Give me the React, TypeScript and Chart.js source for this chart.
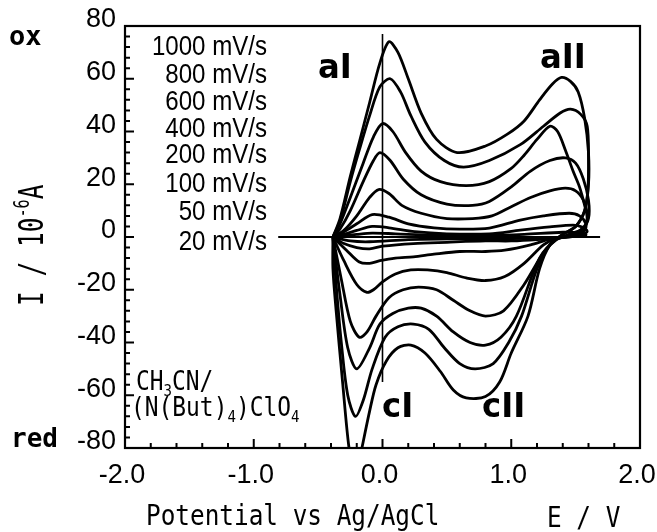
import React, { useEffect, useRef } from "react";
import { Chart, registerables } from "chart.js";

Chart.register(...registerables);

type P = [number, number];

// Scan rates (legend labels, top to bottom)
const scanRates: string[] = ["1000", "800", "600", "400", "200", "100", "50", "20"];

// Cyclic voltammograms: E (V vs Ag/AgCl), I (10^-6 A); anodic sweep then cathodic sweep
const cv1000: P[] = [
  [-0.385, 0], [-0.33, 7], [-0.25, 23], [-0.18, 36], [-0.1, 51], [-0.02, 66], [0.05, 74], [0.12, 70], [0.2, 60],
  [0.3, 47], [0.42, 37], [0.58, 32], [0.8, 34.5], [0.97, 39], [1.1, 44], [1.22, 52], [1.32, 58], [1.39, 60.5],
  [1.46, 59], [1.52, 55], [1.57, 45], [1.6, 32], [1.6, 20], [1.57, 10], [1.5, 4], [1.4, 1],
  [1.3, -3], [1.22, -12], [1.13, -30], [1.0, -44], [0.91, -55], [0.8, -60.5], [0.65, -61], [0.55, -58],
  [0.45, -51], [0.33, -44], [0.22, -41], [0.12, -42], [0.03, -47], [-0.05, -56], [-0.1, -66], [-0.16, -80],
  [-0.21, -92], [-0.26, -80], [-0.31, -55], [-0.36, -28], [-0.385, -12], [-0.385, 0],
];
const cv800: P[] = [
  [-0.385, 0], [-0.33, 6], [-0.25, 21], [-0.18, 33], [-0.1, 46], [-0.02, 57], [0.06, 60], [0.14, 55], [0.22, 46],
  [0.33, 36], [0.48, 29], [0.63, 26.5], [0.83, 29], [1.07, 35], [1.25, 42], [1.38, 47], [1.46, 48.5], [1.54, 46.5],
  [1.59, 42], [1.6, 30], [1.595, 18], [1.57, 10], [1.5, 4], [1.4, 1],
  [1.3, -3], [1.2, -12], [1.08, -30], [0.98, -40], [0.86, -48], [0.72, -50], [0.6, -48], [0.48, -42], [0.36, -35],
  [0.24, -33], [0.12, -34], [0.02, -38], [-0.08, -50], [-0.15, -62], [-0.21, -68], [-0.27, -60], [-0.32, -40],
  [-0.36, -18], [-0.385, 0],
];
const cv600: P[] = [
  [-0.385, 0], [-0.33, 5], [-0.25, 15], [-0.15, 28], [-0.07, 38], [0.0, 43], [0.08, 40], [0.18, 32], [0.3, 25],
  [0.45, 21], [0.65, 19.5], [0.83, 21], [1.0, 26], [1.1, 31], [1.2, 37], [1.3, 42], [1.36, 40], [1.42, 33],
  [1.48, 25], [1.53, 19], [1.57, 12], [1.59, 7], [1.56, 3], [1.48, 1],
  [1.35, -1], [1.22, -8], [1.04, -30], [0.92, -38], [0.8, -41], [0.68, -40], [0.55, -36], [0.42, -30], [0.3, -27],
  [0.2, -27], [0.08, -29], [-0.02, -33], [-0.1, -42], [-0.2, -50], [-0.27, -42], [-0.33, -22], [-0.385, 0],
];
const cv400: P[] = [
  [-0.385, 0], [-0.33, 3], [-0.25, 10], [-0.15, 21], [-0.07, 29], [-0.02, 32], [0.06, 29], [0.16, 22], [0.3, 16],
  [0.5, 12.5], [0.7, 12], [0.83, 13.5], [1.0, 19], [1.15, 25], [1.3, 29], [1.42, 30], [1.5, 28], [1.56, 22],
  [1.6, 14], [1.6, 7], [1.55, 3], [1.45, 1],
  [1.35, -1], [1.25, -6], [1.1, -18], [0.94, -28], [0.8, -30], [0.68, -28], [0.55, -24], [0.42, -20], [0.28, -19],
  [0.16, -20], [0.05, -23], [-0.05, -30], [-0.12, -36], [-0.18, -38], [-0.25, -32], [-0.32, -16], [-0.385, 0],
];
const cv200: P[] = [
  [-0.385, 0], [-0.3, 2.5], [-0.2, 8], [-0.1, 15], [-0.03, 18], [0.05, 16.5], [0.15, 12], [0.3, 9], [0.5, 7],
  [0.7, 7], [0.85, 8], [1.0, 11.5], [1.15, 15], [1.3, 17.5], [1.42, 18.5], [1.5, 17.5], [1.56, 14], [1.59, 9],
  [1.58, 5], [1.52, 2], [1.45, 0.5],
  [1.35, -0.5], [1.25, -3], [1.1, -10], [0.95, -15], [0.8, -16.5], [0.65, -15.5], [0.5, -13.5], [0.35, -12.5],
  [0.22, -12.5], [0.1, -14], [0.0, -17], [-0.07, -20], [-0.12, -21], [-0.2, -18], [-0.3, -9], [-0.385, 0],
];
const cv100: P[] = [
  [-0.385, 0], [-0.3, 2], [-0.2, 5], [-0.08, 8.5], [0.05, 7.5], [0.2, 5], [0.4, 3.5], [0.6, 3], [0.83, 3.4],
  [1.07, 6.4], [1.25, 8], [1.45, 9], [1.53, 8], [1.58, 5], [1.57, 2.5], [1.5, 1], [1.42, 0],
  [1.3, -0.8], [1.15, -3], [0.95, -5], [0.8, -5.5], [0.6, -5.5], [0.4, -6.5], [0.24, -7.5], [0.1, -8],
  [-0.02, -9], [-0.1, -10], [-0.18, -9.5], [-0.28, -5], [-0.385, 0],
];
const cv50: P[] = [
  [-0.385, 0], [-0.3, 1], [-0.2, 2.5], [-0.08, 4], [0.05, 3.5], [0.25, 2], [0.5, 1.2], [0.83, 1.2], [1.07, 2.6],
  [1.3, 3.8], [1.48, 4.5], [1.55, 3.8], [1.59, 2.2], [1.55, 1], [1.45, 0],
  [1.35, -0.3], [1.2, -1], [1.0, -1.5], [0.8, -1.5], [0.5, -2], [0.24, -2.5], [0.0, -3.5], [-0.1, -4.5],
  [-0.2, -4], [-0.3, -2.5], [-0.385, 0],
];
const cv20: P[] = [
  [-0.385, 0], [-0.2, 1], [-0.08, 1.5], [0.1, 1.2], [0.4, 0.7], [0.8, 0.6], [1.1, 1], [1.4, 1.8], [1.55, 1.5],
  [1.58, 0.8], [1.5, 0.3], [1.4, 0],
  [1.3, -0.3], [1.0, -0.6], [0.6, -0.7], [0.2, -1], [-0.1, -1.8], [-0.25, -1.5], [-0.385, 0],
];

// Reference lines
const zeroLine: P[] = [[-0.81, 0], [1.69, 0]];
const zeroPotentialLine: P[] = [[0, 77], [0, -55]];

// Axes
const xTickValues: number[] = [-2, -1, 0, 1, 2];
const yTickValues: number[] = [-80, -60, -40, -20, 0, 20, 40, 60, 80];

const curves: P[][] = [cv1000, cv800, cv600, cv400, cv200, cv100, cv50, cv20];

const MONO = "'DejaVu Sans Mono', 'Liberation Mono', monospace";
const SANS = "'Liberation Sans', Arial, sans-serif";
const BOLD = "'DejaVu Sans', sans-serif";

type Run = { t: string; sub?: boolean; sup?: boolean };

function drawRuns(
  ctx: CanvasRenderingContext2D,
  runs: Run[],
  x: number,
  y: number,
  family: string,
  size: number,
  sx: number,
  weight = "normal",
  align: "left" | "right" = "left"
) {
  ctx.save();
  ctx.translate(x, y);
  ctx.scale(sx, 1);
  ctx.textBaseline = "alphabetic";
  ctx.textAlign = "left";
  ctx.fillStyle = "#000";
  let total = 0;
  const parts = runs.map((r) => {
    const s = r.sub || r.sup ? Math.round(size * 0.62) : size;
    ctx.font = `${weight} ${s}px ${family}`;
    const w = ctx.measureText(r.t).width;
    total += w;
    return { r, s, w };
  });
  let cx = align === "right" ? -total : 0;
  for (const p of parts) {
    ctx.font = `${weight} ${p.s}px ${family}`;
    const dy = p.r.sub ? size * 0.22 : p.r.sup ? -size * 0.42 : 0;
    ctx.fillText(p.r.t, cx, dy);
    cx += p.w;
  }
  ctx.restore();
}

const decor = {
  id: "decor",
  afterDraw(chart: any) {
    const { ctx, chartArea: a } = chart;
    const xs = chart.scales.x;
    const ys = chart.scales.y;
    ctx.save();
    ctx.strokeStyle = "#000";
    ctx.lineWidth = 2.2;
    ctx.strokeRect(a.left, a.top, a.right - a.left, a.bottom - a.top);
    ctx.lineWidth = 2;
    ctx.beginPath();
    for (let i = -10; i <= 10; i++) {
      const px = xs.getPixelForValue(i * 0.2);
      const len = i % 5 === 0 ? 9 : 5;
      ctx.moveTo(px, a.bottom);
      ctx.lineTo(px, a.bottom - len);
    }
    for (let i = -20; i <= 20; i++) {
      const py = ys.getPixelForValue(i * 4);
      const len = i % 5 === 0 ? 9 : 5;
      ctx.moveTo(a.left, py);
      ctx.lineTo(a.left + len, py);
    }
    ctx.stroke();

    // ox / red
    drawRuns(ctx, [{ t: "ox" }], 9, 45, MONO, 27, 1, "bold");
    drawRuns(ctx, [{ t: "red" }], 11, 447, MONO, 26, 1, "bold");

    // scan-rate labels
    const baselines = [55, 83, 110, 137, 163, 192, 220, 250];
    scanRates.forEach((r, i) => {
      drawRuns(ctx, [{ t: `${r} mV/s` }], 267, baselines[i], SANS, 28, 0.86, "normal", "right");
    });

    // peak labels
    drawRuns(ctx, [{ t: "aI" }], 318, 78, BOLD, 34, 0.95, "bold");
    drawRuns(ctx, [{ t: "aII" }], 540, 68, BOLD, 34, 0.95, "bold");
    drawRuns(ctx, [{ t: "cI" }], 382, 417, BOLD, 34, 0.95, "bold");
    drawRuns(ctx, [{ t: "cII" }], 482, 417, BOLD, 34, 0.95, "bold");

    // solvent / electrolyte
    drawRuns(ctx, [{ t: "CH" }, { t: "3", sub: true }, { t: "CN/" }], 136, 390, MONO, 26, 0.88);
    drawRuns(
      ctx,
      [{ t: "(N(But)" }, { t: "4", sub: true }, { t: ")ClO" }, { t: "4", sub: true }],
      131,
      416,
      MONO,
      26,
      0.88
    );

    // axis titles
    drawRuns(ctx, [{ t: "Potential vs Ag/AgCl" }], 146, 525, MONO, 28, 0.87);
    drawRuns(ctx, [{ t: "E / V" }], 547, 527, MONO, 28, 0.87);

    ctx.save();
    ctx.translate(43, 306);
    ctx.rotate(-Math.PI / 2);
    drawRuns(ctx, [{ t: "I / 10" }, { t: "-6", sup: true }, { t: "A" }], 0, 0, MONO, 34, 0.72);
    ctx.restore();

    ctx.restore();
  },
};

export default function App() {
  const ref = useRef<HTMLCanvasElement | null>(null);
  useEffect(() => {
    if (!ref.current) return;
    const datasets: any[] = curves.map((c, i) => ({
      label: `${scanRates[i]} mV/s`,
      data: c.map(([x, y]) => ({ x, y })),
      showLine: true,
      borderColor: "#000",
      borderWidth: 2.8,
      pointRadius: 0,
      tension: 0.3,
      fill: false,
    }));
    datasets.push({
      label: "zero",
      data: zeroLine.map(([x, y]) => ({ x, y })),
      showLine: true,
      borderColor: "#000",
      borderWidth: 2,
      pointRadius: 0,
      tension: 0,
    });
    datasets.push({
      label: "E0",
      data: zeroPotentialLine.map(([x, y]) => ({ x, y })),
      showLine: true,
      borderColor: "#000",
      borderWidth: 1.6,
      pointRadius: 0,
      tension: 0,
    });
    const tickFont = { family: SANS, size: 27 };
    const chart = new Chart(ref.current, {
      type: "scatter",
      data: { datasets },
      plugins: [decor],
      options: {
        responsive: false,
        animation: false,
        devicePixelRatio: 1,
        layout: { padding: { top: 26, right: 17, left: 0, bottom: 0 }, autoPadding: false } as any,
        plugins: { legend: { display: false }, tooltip: { enabled: false }, title: { display: false } },
        scales: {
          x: {
            type: "linear",
            min: -2,
            max: 2,
            afterBuildTicks: (s: any) => {
              s.ticks = xTickValues.map((v) => ({ value: v }));
            },
            afterFit: (s: any) => {
              s.height = 84;
              s.paddingLeft = 0;
              s.paddingRight = 0;
            },
            grid: { display: false, drawTicks: false },
            border: { display: false },
            ticks: {
              color: "#000",
              font: tickFont,
              padding: 11,
              labelOffset: -3,
              maxRotation: 0,
              autoSkip: false,
              callback: (v: any) => Number(v).toFixed(1),
            },
          },
          y: {
            type: "linear",
            min: -80,
            max: 80,
            afterBuildTicks: (s: any) => {
              s.ticks = yTickValues.map((v) => ({ value: v }));
            },
            afterFit: (s: any) => {
              s.width = 125;
              s.paddingTop = 0;
              s.paddingBottom = 0;
            },
            grid: { display: false, drawTicks: false },
            border: { display: false },
            ticks: {
              color: "#000",
              font: tickFont,
              padding: 9,
              labelOffset: -6,
              autoSkip: false,
              callback: (v: any) => String(v),
            },
          },
        },
      } as any,
    });
    return () => chart.destroy();
  }, []);
  return (
    <div style={{ position: "fixed", left: 0, top: 0, width: 657, height: 532, background: "#fff" }}>
      <canvas ref={ref} width={657} height={532} style={{ display: "block" }} />
    </div>
  );
}
